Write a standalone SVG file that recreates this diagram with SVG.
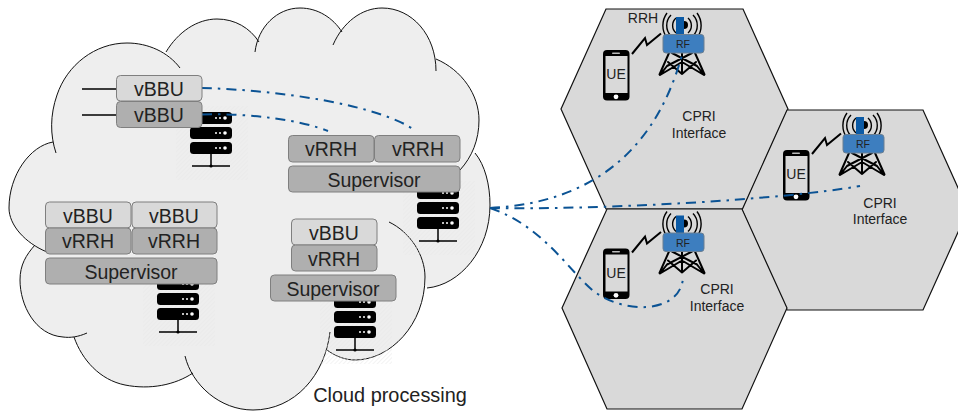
<svg xmlns="http://www.w3.org/2000/svg" width="958" height="411" viewBox="0 0 958 411">
<style>
text{font-family:"Liberation Sans",Arial,sans-serif;fill:#222;text-anchor:middle}
.l{font-size:19.5px}.s{font-size:14px}.rf{font-size:10.5px}
.hex{fill:#d9d9d9;stroke:#111;stroke-width:1.2}
.lite{fill:#d9d9d9;stroke:#7f7f7f;stroke-width:1}
.dark{fill:#afafaf;stroke:#7f7f7f;stroke-width:1}
.conn{fill:none;stroke:#0b5394;stroke-width:2;stroke-dasharray:10 6 2.5 6}
.arc{fill:none;stroke:#111;stroke-width:1}
</style>
<defs>
<pattern id="hatch" width="3" height="3" patternUnits="userSpaceOnUse" patternTransform="rotate(45)"><line x1="0" y1="0" x2="0" y2="3" stroke="#e8e8e8" stroke-width="1"/></pattern>
<g id="server">
<rect x="-14" y="-6" width="72" height="74" fill="url(#hatch)"/>
<g fill="#000"><rect width="42" height="12" rx="3.5"/><rect y="15" width="42" height="12" rx="3.5"/><rect y="30" width="42" height="12" rx="3.5"/></g>
<g fill="#fff"><circle cx="26" cy="6" r="1"/><circle cx="30" cy="6" r="1"/><circle cx="35" cy="6" r="1.8"/><circle cx="26" cy="21" r="1"/><circle cx="30" cy="21" r="1"/><circle cx="35" cy="21" r="1.8"/><circle cx="26" cy="36" r="1"/><circle cx="30" cy="36" r="1"/><circle cx="35" cy="36" r="1.8"/></g>
<path d="M21 42V54M2 54H40" stroke="#000" stroke-width="1.5" fill="none"/><circle cx="21" cy="54" r="1.6"/>
</g>
<g id="cell">
<rect x="603" y="50" width="26.500" height="50.500" rx="4" fill="#000"/>
<rect x="605.500" y="56" width="22" height="37" fill="#d9d9d9"/>
<rect x="612" y="52.500" width="8" height="1.500" rx="0.700" fill="#bbb"/>
<circle cx="616" cy="96.800" r="2.400" fill="#fff"/>
<path d="M632 54L645 38L647 45L661 33.500" fill="none" stroke="#000" stroke-width="2" stroke-linejoin="miter"/>
<path d="M669 53L659.500 74.500M695 53L704.500 74.500M672 53L697 66L704 75M692 53L667 66L660 75M682 53V74M660 75L682 62L704 75M668 62L682 74L696 62" fill="none" stroke="#000" stroke-width="2" stroke-linejoin="round" stroke-linecap="round"/>
<path d="M676 18a10 10 0 0 0 0 15M688 18a10 10 0 0 1 0 15M671 15a15 15 0 0 0 0 21M693 15a15 15 0 0 1 0 21M667 13a21 21 0 0 0 0 25M697 13a21 21 0 0 1 0 25" fill="none" stroke="#000" stroke-width="1.400"/>
<circle cx="684" cy="25" r="4" fill="#000"/>
<rect x="676" y="17" width="8" height="18" fill="#0b5aa5"/>
<rect x="663" y="34.500" width="41" height="18.500" rx="3" fill="#3d7ebf" stroke="#6b7f92" stroke-width="1"/>
</g>
</defs>

<g id="cloud">
<path fill="#eeeeee" d="M56,153C50,135 50,115 57,95C67,65 95,43 127,43C148,43 168,52 180,68L166,52C178,32 197,19 217,19C235,19 250,28 259,42L255,52C258,27 277,8 300,8C318,8 333,18 342,32L333,45C343,22 362,8 382,8C412,8 436,35 436,71L436,59C462,70 479,95 479,120C479,140 472,157 460,170L475,153C485,165 490,185 490,205C490,250 460,285 427,288L425,277C425,325 390,360 355,360C345,360 335,356 327,350L330,332C325,375 295,410 253,410C220,410 192,385 185,356L193,373C175,385 150,390 125,385C100,380 82,360 74,337L87,333C78,337 70,338 63,337C35,335 20,305 20,280C20,265 26,255 35,245L47,252C25,243 9,225 9,208C9,175 30,146 53,142Z"/>
<path class="arc" d="M56,153C50,135 50,115 57,95C67,65 95,43 127,43C148,43 168,52 180,68M166,52C178,32 197,19 217,19C235,19 250,28 259,42M255,52C258,27 277,8 300,8C318,8 333,18 342,32M333,45C343,22 362,8 382,8C412,8 436,35 436,71M436,59C462,70 479,95 479,120C479,140 472,157 460,170M475,153C485,165 490,185 490,205C490,250 460,285 427,288M389,222C410,232 425,255 425,277C425,325 390,360 355,360C345,360 335,356 327,350M330,332C325,375 295,410 253,410C220,410 192,385 185,356M193,373C175,385 150,390 125,385C100,380 82,360 74,337M87,333C78,337 70,338 63,337C35,335 20,305 20,280C20,265 26,255 35,245M47,252C25,243 9,225 9,208C9,175 30,146 53,142"/>
<text x="390" y="402" style="font-size:19.900px">Cloud processing</text>
</g>

<g id="hexagons">
<polygon class="hex" points="606,9 743,9 788,109 743,209 606,209 561,109"/>
<polygon class="hex" points="787,110 923,110 968,210 923,310 787,310 742,210"/>
<polygon class="hex" points="607,209 742,209 787,308 742,409 607,409 562,308"/>
</g>

<g id="server-1"><use href="#server" x="190" y="112"/></g>
<g id="server-2"><use href="#server" x="417" y="187"/></g>
<g id="server-3"><use href="#server" x="157" y="278"/></g>
<g id="server-4"><use href="#server" x="334" y="296"/></g>

<g id="cell-1"><use href="#cell"/><text class="s" x="643" y="23">RRH</text><text class="s" x="616" y="79">UE</text><text class="rf" x="683" y="48">RF</text></g>
<g id="cell-2"><use href="#cell" x="180" y="100"/><text class="s" x="796" y="179">UE</text><text class="rf" x="863" y="148">RF</text></g>
<g id="cell-3"><use href="#cell" y="198.500"/><text class="s" x="616" y="277.500">UE</text><text class="rf" x="683" y="246.500">RF</text></g>

<g id="cpri-labels">
<text class="s" x="699" y="121">CPRI</text><text class="s" x="699" y="137.500">Interface</text>
<text class="s" x="880" y="208">CPRI</text><text class="s" x="880" y="224">Interface</text>
<text class="s" x="717" y="294">CPRI</text><text class="s" x="717" y="311">Interface</text>
</g>

<g id="stubs"><path d="M82 89H116M82 115H116" stroke="#000" stroke-width="1.500" fill="none"/></g>

<g id="connectors">
<path class="conn" d="M202,88C280,90 380,105 416,131"/>
<path class="conn" d="M202,114.500C250,113 300,120 328,131"/>
<path class="conn" d="M490,208C570,204 650,170 682,55"/>
<path class="conn" d="M490,208C600,210 780,200 860,186"/>
<path class="conn" d="M490,208C540,225 565,265 590,288C620,315 680,315 683,278"/>
</g>

<g id="vbbu-a"><rect class="lite" x="116.500" y="75.500" width="85.500" height="25.500" rx="4"/><text class="l" x="159" y="96">vBBU</text></g>
<g id="vbbu-b"><rect class="dark" x="116.500" y="101.500" width="85.500" height="26" rx="4"/><text class="l" x="159" y="122">vBBU</text></g>

<g id="stack-right">
<rect class="dark" x="288.500" y="135.500" width="85.500" height="26.500" rx="4"/><text class="l" x="331" y="155.700">vRRH</text>
<rect class="dark" x="374.500" y="135.500" width="85.500" height="26.500" rx="4"/><text class="l" x="418" y="155.700">vRRH</text>
<rect class="dark" x="288.500" y="166" width="171.500" height="26" rx="4"/><text class="l" x="374" y="187">Supervisor</text>
</g>
<g id="stack-left">
<rect class="lite" x="45.500" y="202" width="85.500" height="26" rx="4"/><text class="l" x="88" y="222.700">vBBU</text>
<rect class="lite" x="132" y="202" width="85" height="26" rx="4"/><text class="l" x="174" y="222.700">vBBU</text>
<rect class="dark" x="45.500" y="228" width="85.500" height="26" rx="4"/><text class="l" x="88" y="248">vRRH</text>
<rect class="dark" x="132" y="228" width="85" height="26" rx="4"/><text class="l" x="174" y="248">vRRH</text>
<rect class="dark" x="45.500" y="258" width="171.500" height="26" rx="4"/><text class="l" x="131" y="279">Supervisor</text>
</g>
<g id="stack-middle">
<rect class="lite" x="291.500" y="219" width="85.500" height="26" rx="4"/><text class="l" x="334" y="240">vBBU</text>
<rect class="dark" x="291.500" y="245" width="85.500" height="26" rx="4"/><text class="l" x="334" y="266">vRRH</text>
<rect class="dark" x="270.500" y="275" width="125.500" height="26" rx="4"/><text class="l" x="333" y="296">Supervisor</text>
</g>
</svg>
